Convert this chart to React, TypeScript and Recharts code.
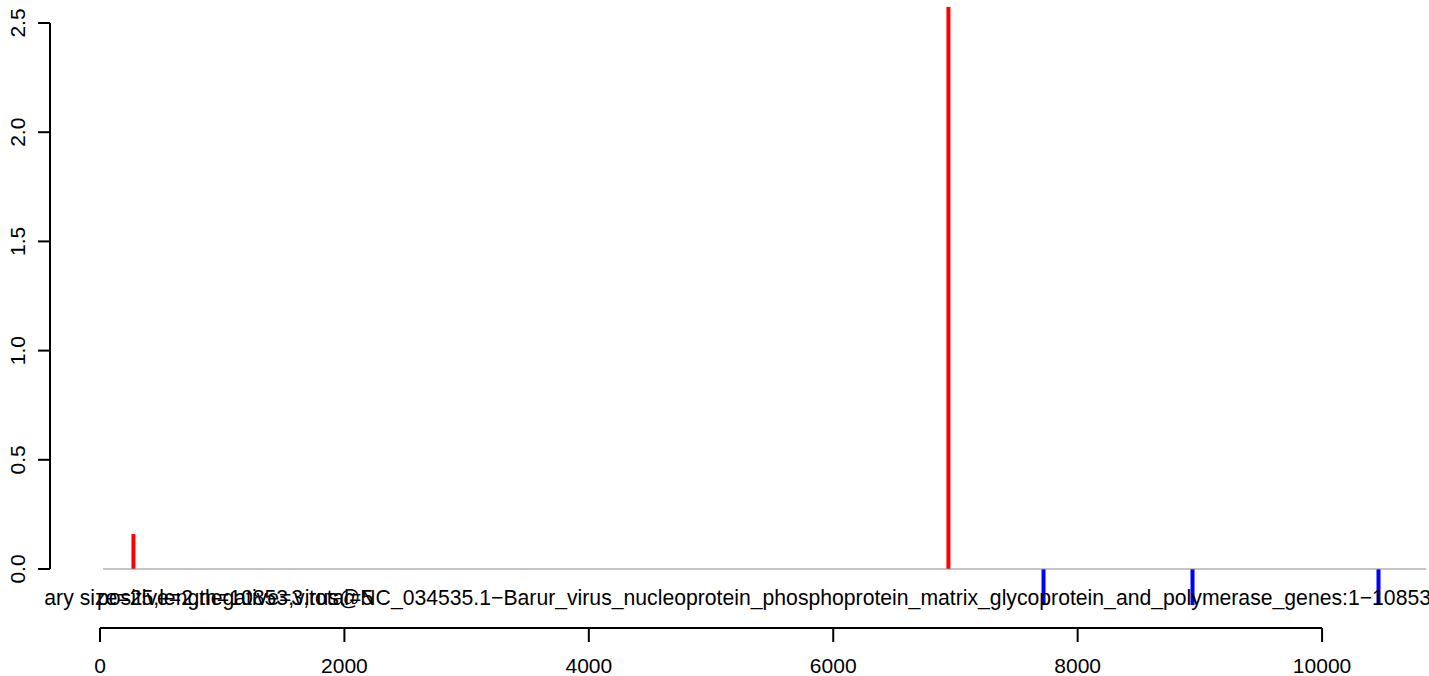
import React from "react";
import { ComposedChart, Bar, Cell, XAxis, YAxis, ReferenceLine } from "recharts";

// read-hit positions along the genome and their scores (negative = minus strand)
const positions = [270, 6939, 7717, 8936, 10458];
const scores = [0.16, 2.573, -0.165, -0.165, -0.165];
const xTicks = [0, 2000, 4000, 6000, 8000, 10000];
const yTicks = [0, 0.5, 1, 1.5, 2, 2.5];
const genomeStart = 25;
const genomeEnd = 10853;

const titleMain =
  "Library size=25,length=10853,virus@NC_034535.1\u2212Barur_virus_nucleoprotein_phosphoprotein_matrix_glycoprotein_and_polymerase_genes:1\u221210853";
const titleCounts = "positive=2,negative=3,total=5";

const X_MIN = -409;
const X_MAX = 10875;
const Y_MIN = -0.2701;
const Y_MAX = 2.6053;

const FONT = "'Liberation Sans', Arial, Helvetica, sans-serif";

const data = positions.map((pos, i) => ({ pos, score: scores[i] }));

const XTick = (props: any) => {
  const { x, y, payload } = props;
  return (
    <text x={x} y={y + 31} textAnchor="middle" fontSize={21} fontFamily={FONT} fill="#000">
      {payload.value}
    </text>
  );
};

const YTick = (props: any) => {
  const { y, payload } = props;
  return (
    <text x={25} y={y} transform={`rotate(-90, 25, ${y})`} textAnchor="middle" fontSize={21} fontFamily={FONT} fill="#000">
      {Number(payload.value).toFixed(1)}
    </text>
  );
};

export default function App() {
  return (
    <div style={{ position: "absolute", left: 0, top: 0, width: 1429, height: 676, background: "#fff" }}>
      <ComposedChart width={1429} height={676} data={data} margin={{ top: 0, right: 0, bottom: 0, left: 0 }}>
        <XAxis
          type="number"
          dataKey="pos"
          domain={[X_MIN, X_MAX]}
          ticks={xTicks}
          allowDataOverflow
          axisLine={false}
          tickLine={{ stroke: "#000", strokeWidth: 2 }}
          tickSize={14}
          tickMargin={0}
          height={48}
          tick={<XTick />}
          interval={0}
        />
        <YAxis
          type="number"
          domain={[Y_MIN, Y_MAX]}
          ticks={yTicks}
          allowDataOverflow
          axisLine={false}
          tickLine={{ stroke: "#000", strokeWidth: 2 }}
          tickSize={12}
          width={50}
          tick={<YTick />}
          interval={0}
        />
        <ReferenceLine
          segment={[{ x: genomeStart, y: 0 }, { x: genomeEnd, y: 0 }]}
          stroke="#8c8c8c"
          strokeWidth={1.2}
          ifOverflow="visible"
        />
        <ReferenceLine
          segment={[{ x: 0, y: Y_MIN }, { x: 10000, y: Y_MIN }]}
          stroke="#000"
          strokeWidth={2}
          ifOverflow="visible"
        />
        <ReferenceLine
          segment={[{ x: X_MIN, y: 0 }, { x: X_MIN, y: 2.5 }]}
          stroke="#000"
          strokeWidth={2}
          ifOverflow="visible"
        />
        <Bar dataKey="score" barSize={4} isAnimationActive={false}>
          {data.map((d, i) => (
            <Cell key={i} fill={d.score >= 0 ? "#ff0000" : "#0000ff"} />
          ))}
        </Bar>
      </ComposedChart>
      <svg width={1429} height={676} style={{ position: "absolute", left: 0, top: 0, pointerEvents: "none" }}>
        <defs>
          <clipPath id="titleClip">
            <rect x={44} y={570} width={1385} height={60} />
          </clipPath>
        </defs>
        <g clipPath="url(#titleClip)">
          <text x={1431} y={605} textAnchor="end" fontSize={21.2} fontFamily={FONT} fill="#000">{titleMain}</text>
          <text x={97} y={605} fontSize={21.2} fontFamily={FONT} fill="#000">{titleCounts}</text>
        </g>
      </svg>
    </div>
  );
}
